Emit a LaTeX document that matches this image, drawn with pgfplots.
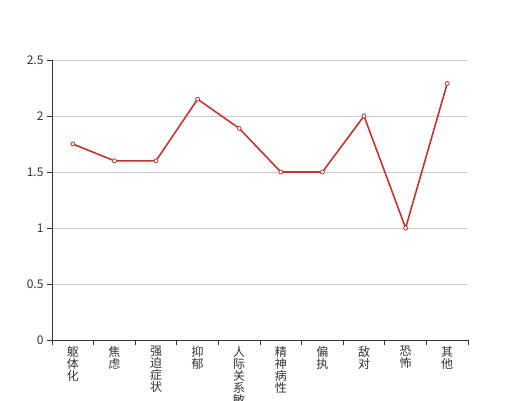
\documentclass[border=0pt]{standalone}
\usepackage{fontspec}
\setmainfont{Noto Sans CJK SC}
\usepackage{pgfplots}
\pgfplotsset{compat=1.18}
\definecolor{lineRed}{HTML}{C23531}
\definecolor{axisInk}{HTML}{333333}
\definecolor{gridGray}{HTML}{CCCCCC}

\begin{document}
\begin{tikzpicture}
\path[use as bounding box] (-52pt,-60pt) rectangle (468pt,340pt);
\begin{axis}[
  at={(0pt,0pt)}, anchor=south west,
  scale only axis, width=416pt, height=280pt,
  xmin=0.5, xmax=10.5, ymin=0, ymax=2.5,
  axis lines=left, axis line style={-, color=axisInk, line width=0.8pt},
  tick align=outside, major tick length=5pt,
  tick style={color=axisInk, line width=0.8pt},
  xtick={0.5,1.5,...,10.5}, xticklabels={},
  extra x ticks={1,2,3,4,5,6,7,8,9,10},
  extra x tick labels={{躯\\体\\化},{焦\\虑},{强\\迫\\症\\状},{抑\\郁},{人\\际\\关\\系\\敏\\感},{精\\神\\病\\性},{偏\\执},{敌\\对},{恐\\怖},{其\\他}},
  extra x tick style={major tick length=0pt, grid=none},
  xticklabel style={font=\fontsize{12}{12}\selectfont, text=axisInk, align=center, anchor=north, inner sep=0pt, yshift=-6pt},
  ytick={0,0.5,1,1.5,2,2.5},
  yticklabel style={font=\fontsize{12}{12}\selectfont, text=axisInk},
  /pgf/number format/assume math mode=true,
  ymajorgrids, major grid style={gridGray, line width=0.8pt},
  clip=false,
]
\addplot[color=lineRed, line width=1.6pt, mark=*, mark size=2pt,
  mark options={fill=white, draw=lineRed, line width=0.8pt}]
  coordinates {(1,1.75) (2,1.6) (3,1.6) (4,2.15) (5,1.89) (6,1.5) (7,1.5) (8,2.0) (9,1.0) (10,2.29)};
\end{axis}
\end{tikzpicture}
\end{document}
